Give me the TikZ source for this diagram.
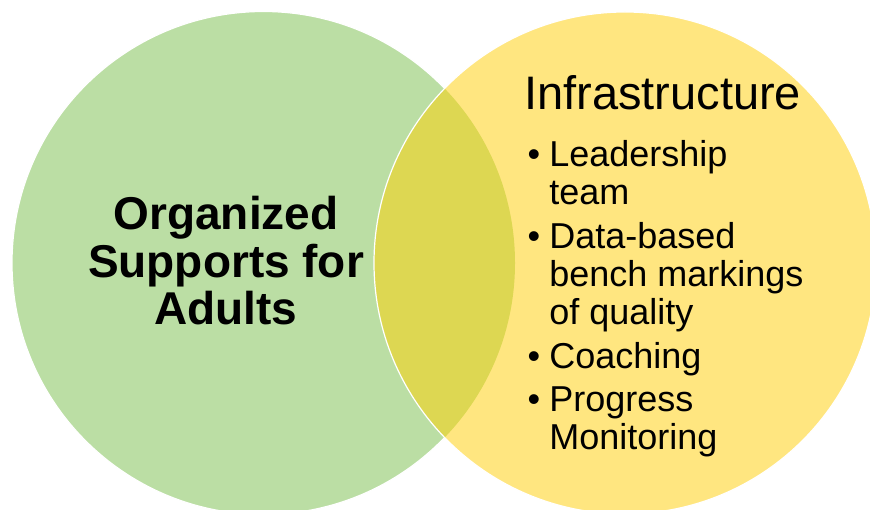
\documentclass[tikz,border=0pt]{standalone}
\usepackage{fontspec}
\setmainfont{Liberation Sans}
\definecolor{supportgreen}{RGB}{187,222,164}
\definecolor{infrayellow}{RGB}{255,230,128}
\definecolor{overlapolive}{RGB}{221,215,82}

\begin{document}
\begin{tikzpicture}[
    x=1pt, y=-1pt,
    rim/.style={draw=white, line width=1.2pt},
    setlabel/.style={align=center, inner sep=0pt, font=\fontsize{46}{47.5}\selectfont\bfseries},
    heading/.style={anchor=base west, inner sep=0pt, font=\fontsize{47}{50}\selectfont},
    bullets/.style={anchor=base west, inner sep=0pt, font=\fontsize{36}{38}\selectfont}
]
\useasboundingbox (0,0) rectangle (870,510);

% Circle centres
\coordinate (cl) at (263.5,263);
\coordinate (cr) at (625,263);

% Circles (yellow on top, overlap blended)
\fill[supportgreen, rim] (cl) circle[radius=251.5pt];
\fill[infrayellow] (cr) circle[radius=251pt];
\begin{scope}
    \clip (cl) circle[radius=251.5pt];
    \fill[overlapolive] (cr) circle[radius=251pt];
\end{scope}
\draw[rim] (cr) circle[radius=251pt];

% Labels
\node[setlabel] (support) at (226,261) {Organized\\Supports for\\Adults};
\node[heading] (infra) at (524,110) {Infrastructure};
\node[bullets] (items) at (527.5,167) {%
\begin{tabular}[t]{@{}l@{\hspace{9pt}}l@{}}
\textbullet & Leadership\\
            & team\\[5.5pt]
\textbullet & Data-based\\
            & bench markings\\
            & of quality\\[6pt]
\textbullet & Coaching\\[5pt]
\textbullet & Progress\\
            & Monitoring
\end{tabular}};

\end{tikzpicture}
\end{document}
